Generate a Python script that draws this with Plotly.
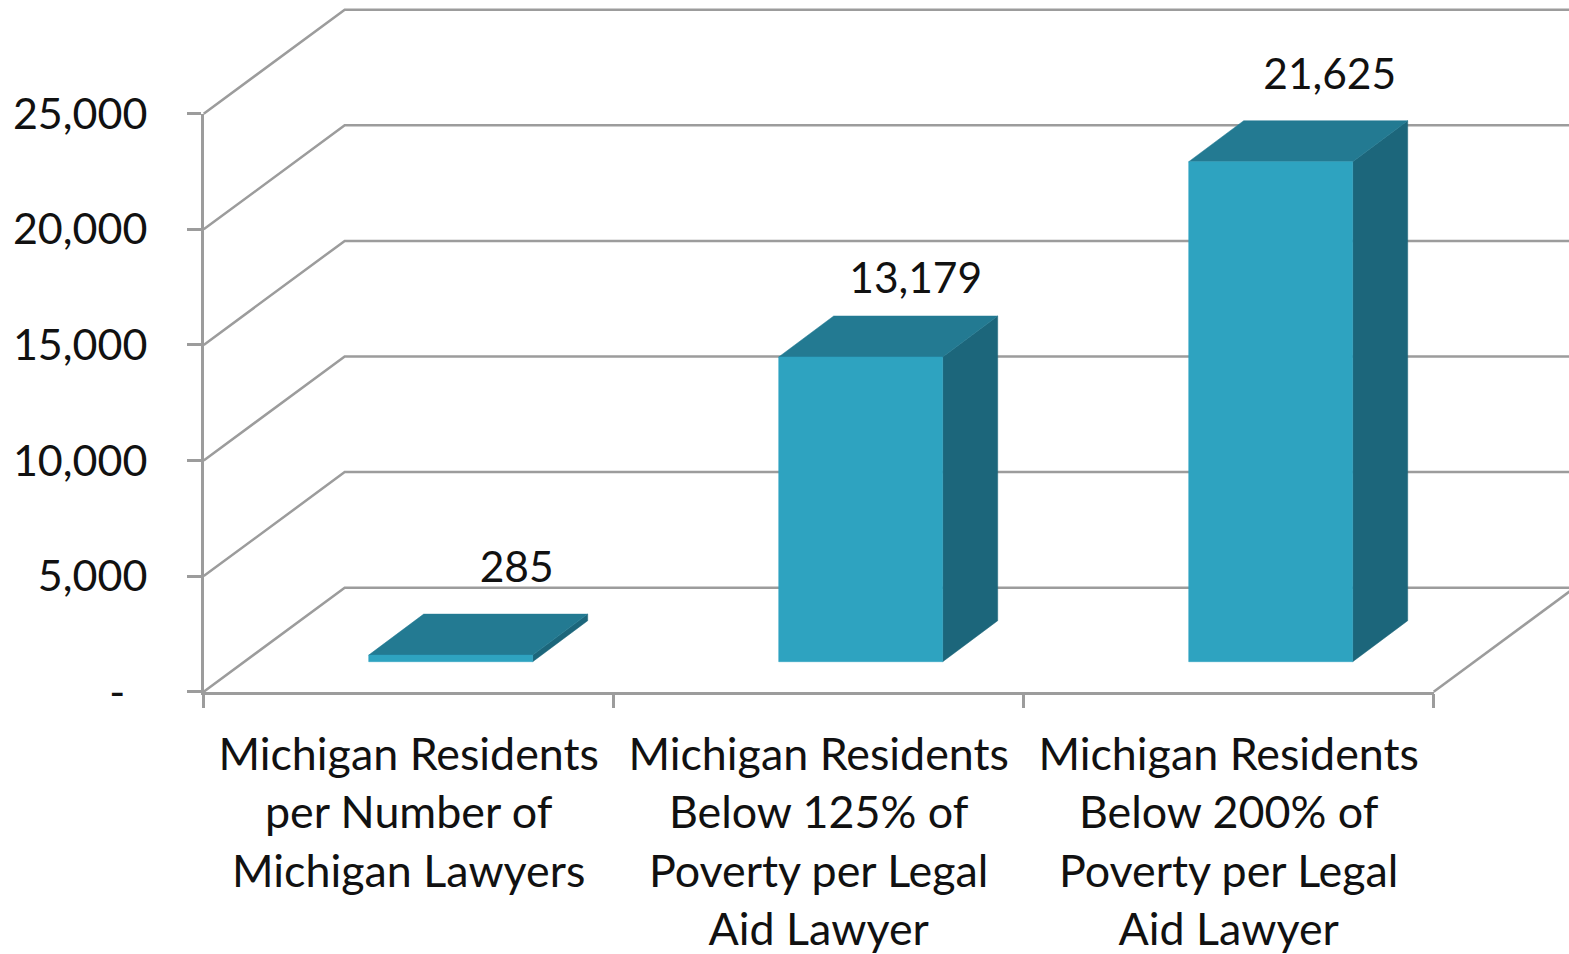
import plotly.graph_objects as go

FIG_W, FIG_H = 1569, 954
categories = ["Michigan Residents<br>per Number of<br>Michigan Lawyers",
              "Michigan Residents<br>Below 125% of<br>Poverty per Legal<br>Aid Lawyer",
              "Michigan Residents<br>Below 200% of<br>Poverty per Legal<br>Aid Lawyer"]
values = [285, 13179, 21625]
value_labels = ["285", "13,179", "21,625"]
y_ticks = [0, 5000, 10000, 15000, 20000, 25000]
y_tick_labels = ["-\u00a0\u00a0", "5,000", "10,000", "15,000", "20,000", "25,000"]

# front plot box in pixels
L, R, T, B = 203.7, 1433.7, 113.7, 691.7
px_x = 3 / (R - L)                # x units per pixel
px_y = 25000 / (B - T)            # y units per pixel
# depth projection, px
WALL_DX, WALL_DY = 141 * px_x, 104 * px_y
BAR_DX, BAR_DY = 55 * px_x, 41 * px_y
BAR_W = 164 * px_x
BAR_SHIFT = 42 * px_x
BAR_BASE = 30 * px_y
LABEL_DX = [66 * px_x, 55 * px_x, 59 * px_x]
LABEL_DY = [62 * px_y, 53 * px_y, 62 * px_y]

GRID = "#9c9c9c"
FRONT, TOP, SIDE = "#2ea3c0", "#237a92", "#1c667b"
FONT = "Lato"
TEXT = "#111111"

# marks live on a full-page subplot with the same scale as the front box
x_left, x_right = -L * px_x, (FIG_W - L) * px_x
y_bottom, y_top = -(FIG_H - B) * px_y, B * px_y

fig = go.Figure()

def line(xs, ys, width=2.5):
    fig.add_trace(go.Scatter(x=xs, y=ys, mode="lines", line=dict(color=GRID, width=width),
                             hoverinfo="skip", showlegend=False))

def poly(xs, ys, color):
    fig.add_trace(go.Scatter(x=xs, y=ys, mode="lines", fill="toself", fillcolor=color,
                             line=dict(color=color, width=0.5),
                             hoverinfo="skip", showlegend=False))

for t in y_ticks:
    line([0, WALL_DX, x_right], [t, t + WALL_DY, t + WALL_DY])
line([3, 3 + WALL_DX], [0, WALL_DY])

for i, v in enumerate(values):
    x0 = i + 0.5 + BAR_SHIFT - BAR_W / 2
    x1 = x0 + BAR_W
    b, t = BAR_BASE, BAR_BASE + v
    poly([x1, x1 + BAR_DX, x1 + BAR_DX, x1, x1], [b, b + BAR_DY, t + BAR_DY, t, b], SIDE)
    poly([x0, x1, x1 + BAR_DX, x0 + BAR_DX, x0], [t, t, t + BAR_DY, t + BAR_DY, t], TOP)
    poly([x0, x1, x1, x0, x0], [b, b, t, t, b], FRONT)

fig.add_trace(go.Scatter(x=[i + 0.5 + BAR_SHIFT + LABEL_DX[i] for i in range(3)],
                         y=[BAR_BASE + v + LABEL_DY[i] for i, v in enumerate(values)],
                         mode="text", text=value_labels, textposition="top center",
                         textfont=dict(family=FONT, size=42.5, color=TEXT),
                         hoverinfo="skip", showlegend=False))

# invisible trace so that the front axes are drawn
fig.add_trace(go.Scatter(x=[0.5, 1.5, 2.5], y=[None, None, None], xaxis="x2", yaxis="y2",
                         mode="lines", hoverinfo="skip", showlegend=False))

fig.update_layout(
    width=FIG_W, height=FIG_H, autosize=False,
    margin=dict(l=0, r=0, t=0, b=0),
    paper_bgcolor="white", plot_bgcolor="rgba(0,0,0,0)",
    font=dict(family=FONT, size=43, color=TEXT),
    xaxis=dict(domain=[0, 1], range=[x_left, x_right], visible=False, automargin=False),
    yaxis=dict(domain=[0, 1], range=[y_bottom, y_top], visible=False, automargin=False),
    xaxis2=dict(domain=[L / FIG_W, R / FIG_W], range=[0, 3], automargin=False, anchor="y2",
                tickmode="array", tickvals=[0.5, 1.5, 2.5], ticktext=categories, ticks="",
                ticklabelstandoff=22, showline=True, linecolor=GRID, linewidth=2.5,
                showgrid=False, zeroline=False,
                tickfont=dict(family=FONT, size=44.8, color=TEXT),
                minor=dict(tickmode="array", tickvals=[0, 1, 2, 3], ticks="outside", ticklen=14,
                           tickwidth=2.5, tickcolor=GRID, showgrid=False)),
    yaxis2=dict(domain=[1 - B / FIG_H, 1 - T / FIG_H], range=[0, 25000], automargin=False,
                anchor="x2", tickmode="array", tickvals=y_ticks, ticktext=y_tick_labels,
                ticks="outside", ticklen=14, tickwidth=2.5, tickcolor=GRID, ticklabelstandoff=31,
                showline=True, linecolor=GRID, linewidth=2.5, showgrid=False, zeroline=False,
                tickfont=dict(family=FONT, size=43, color=TEXT)),
)
fig.write_html("out.html", config=dict(displayModeBar=False),
               post_script="document.body.style.margin='0';")
